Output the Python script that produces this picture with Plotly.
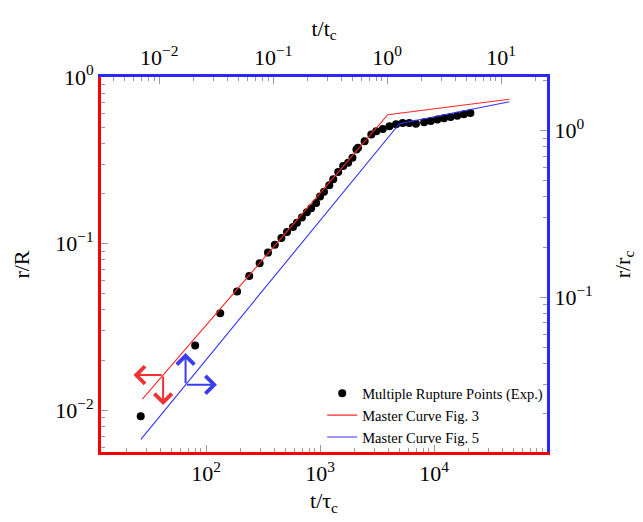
import numpy as np
import plotly.graph_objects as go

# ---- data ----
t_tau = [26.7, 80.2, 133, 187, 239, 295, 349, 401, 458, 513, 579, 627, 693, 766, 835, 923,
         1000, 1083, 1205, 1306, 1443, 1595, 1763, 1924, 2084, 2153, 2461, 2816, 3113, 3550,
         4060, 4645, 5300, 6065, 6935, 8185, 9360, 10690, 12220, 13970, 15960, 18240, 20840]
r_R = [0.0092, 0.0245, 0.0382, 0.0516, 0.0639, 0.0763, 0.0884, 0.0986, 0.108, 0.1174, 0.1257,
       0.1334, 0.1434, 0.1544, 0.163, 0.1754, 0.192, 0.205, 0.2245, 0.2437, 0.269, 0.292,
       0.306, 0.328, 0.3676, 0.376, 0.412, 0.452, 0.472, 0.488, 0.506, 0.520, 0.530, 0.530,
       0.525, 0.535, 0.545, 0.555, 0.565, 0.575, 0.586, 0.597, 0.608]

fig3_t = [27.6, 3926, 45800]
fig3_r = [0.01167, 0.594, 0.736]
fig5_t = [26.8, 4970, 45800]
fig5_r = [0.0067, 0.525, 0.710]

tc_over_tauc = 10 ** 3.589     # t_c / tau_c
rc_over_R = 10 ** -0.321       # r_c / R

x_range = [1.078, 4.991]       # log10(t/tau_c)
y_range = [-2.25, 0.0]         # log10(r/R)
x2_range = [v - np.log10(tc_over_tauc) for v in x_range]
y2_range = [v - np.log10(rc_over_R) for v in y_range]

top_ticks = [0.01, 0.1, 1, 10]
top_text = ['10<sup>−2</sup>', '10<sup>−1</sup>', '10<sup>0</sup>', '10<sup>1</sup>']
bot_ticks = [100, 1000, 10000]
bot_text = ['10<sup>2</sup>', '10<sup>3</sup>', '10<sup>4</sup>']
left_ticks = [0.01, 0.1, 1]
left_text = ['10<sup>−2</sup>', '10<sup>−1</sup>', '10<sup>0</sup>']
right_ticks = [0.1, 1]
right_text = ['10<sup>−1</sup>', '10<sup>0</sup>']

RED = 'rgb(245,0,0)'
BLUE = 'rgb(40,40,250)'
FONT = 'Liberation Serif'


def minor_vals(rng):
    lo, hi = int(np.floor(rng[0])) - 1, int(np.ceil(rng[1])) + 1
    return [m * 10 ** k for k in range(lo, hi) for m in range(2, 10)]


fig = go.Figure()
fig.add_trace(go.Scatter(x=t_tau, y=r_R, mode='markers', name='Multiple Rupture Points (Exp.)',
                         marker=dict(color='black', size=8), xaxis='x', yaxis='y'))
fig.add_trace(go.Scatter(x=fig3_t, y=fig3_r, mode='lines', name='Master Curve Fig. 3',
                         line=dict(color='rgb(255,40,40)', width=1.1), xaxis='x', yaxis='y'))
fig.add_trace(go.Scatter(x=fig5_t, y=fig5_r, mode='lines', name='Master Curve Fig. 5',
                         line=dict(color='rgb(50,50,255)', width=1.1), xaxis='x', yaxis='y'))
# invisible trace on secondary axes so they render
fig.add_trace(go.Scatter(x=[1], y=[1], mode='markers', marker=dict(opacity=0), showlegend=False,
                         hoverinfo='skip', xaxis='x2', yaxis='y2'))


def on_line(xs, ys, lx):
    return float(np.interp(lx, np.log10(xs), np.log10(ys)))


# direction arrows (red -> left/bottom axes, blue -> top/right axes)
rx = 1.623
ry = on_line(fig3_t, fig3_r, rx)
bx = 1.82
by = on_line(fig5_t, fig5_r, bx)
arrow_common = dict(xref='x', yref='y', axref='x', ayref='y', showarrow=True, text='',
                    arrowhead=4, arrowsize=1.7, arrowwidth=2)
annotations = [
    dict(x=rx - 0.26, y=ry, ax=rx, ay=ry, arrowcolor='rgb(240,50,50)', **arrow_common),
    dict(x=rx, y=ry - 0.18, ax=rx, ay=ry, arrowcolor='rgb(240,50,50)', **arrow_common),
    dict(x=bx, y=by + 0.19, ax=bx, ay=by, arrowcolor='rgb(60,60,240)', **arrow_common),
    dict(x=bx + 0.275, y=by, ax=bx, ay=by, arrowcolor='rgb(60,60,240)', **arrow_common),
]

tickfont = dict(family=FONT, size=22, color='black')
titlefont = dict(family=FONT, size=22, color='black')
common = dict(type='log', showgrid=False, zeroline=False, showline=True, linewidth=3,
              ticks='inside', ticklen=7, tickcolor='#999', tickwidth=1, tickfont=tickfont)

# the page body has an 8px margin, so the figure is sized to fit inside the window
fig.update_layout(
    width=635, height=514,
    margin=dict(l=92, r=94, t=69, b=59),
    paper_bgcolor='white', plot_bgcolor='white',
    showlegend=True,
    legend=dict(x=0.496, y=0.199, xanchor='left', yanchor='top', bgcolor='rgba(0,0,0,0)',
                font=dict(family=FONT, size=14.5, color='black'), tracegroupgap=0,
                itemwidth=30),
    annotations=annotations,
    xaxis=dict(range=x_range, linecolor=RED, side='bottom', tickmode='array',
               tickvals=bot_ticks, ticktext=bot_text,
               minor=dict(tickmode='array', tickvals=minor_vals(x_range), ticks='inside',
                          ticklen=4, tickcolor='#999'),
               title=dict(text='t/τ<sub>c</sub>', font=titlefont, standoff=8), **common),
    xaxis2=dict(range=x2_range, linecolor=BLUE, side='top', overlaying='x', tickmode='array',
                tickvals=top_ticks, ticktext=top_text,
                minor=dict(tickmode='array', tickvals=minor_vals(x2_range), ticks='inside',
                           ticklen=4, tickcolor='#999'),
                title=dict(text='t/t<sub>c</sub>', font=titlefont, standoff=0), **common),
    yaxis=dict(range=y_range, linecolor=RED, side='left', tickmode='array',
               tickvals=left_ticks, ticktext=left_text,
               minor=dict(tickmode='array', tickvals=minor_vals(y_range), ticks='inside',
                          ticklen=4, tickcolor='#999'),
               title=dict(text='r/R', font=titlefont, standoff=20), **common),
    yaxis2=dict(range=y2_range, linecolor=BLUE, side='right', overlaying='y', tickmode='array',
                tickvals=right_ticks, ticktext=right_text,
                minor=dict(tickmode='array', tickvals=minor_vals(y2_range), ticks='inside',
                           ticklen=4, tickcolor='#999'),
                title=dict(text='r/r<sub>c</sub>', font=titlefont, standoff=23), **common),
)

fig.write_html('out.html')
